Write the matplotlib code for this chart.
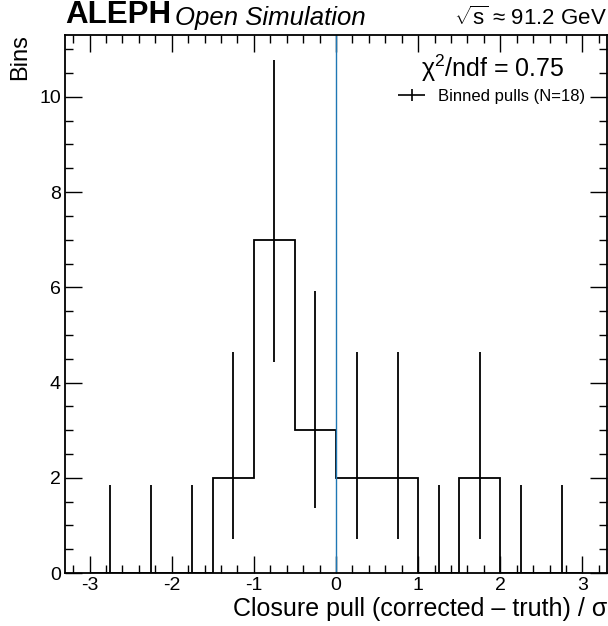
import numpy as np
import matplotlib
matplotlib.use("Agg")
import matplotlib.pyplot as plt
from matplotlib.ticker import MultipleLocator
from matplotlib.legend_handler import HandlerErrorbar

plt.rcParams['font.family'] = ['Liberation Sans', 'DejaVu Sans']
plt.rcParams['mathtext.fontset'] = 'custom'
plt.rcParams['mathtext.rm'] = 'Liberation Sans'
plt.rcParams['mathtext.it'] = 'Liberation Sans:italic'
plt.rcParams['axes.unicode_minus'] = False

# binned closure pulls, 0.5 wide bins from -3 to 3
edges = [-3.0, -2.5, -2.0, -1.5, -1.0, -0.5, 0.0, 0.5, 1.0, 1.5, 2.0, 2.5, 3.0]
counts = [0, 0, 0, 2, 7, 3, 2, 2, 0, 2, 0, 0]
# Poisson (Garwood) 68% intervals per bin
err_lo = [0.0, 0.0, 0.0, 0.708, 4.423, 1.367, 0.708, 0.708, 0.0, 0.708, 0.0, 0.0]
err_hi = [1.841, 1.841, 1.841, 4.638, 10.771, 5.918, 4.638, 4.638, 1.841, 4.638, 1.841, 1.841]
chi2_ndf = 0.75
n_entries = 18

edges = np.array(edges)
counts = np.array(counts)
centers = 0.5 * (edges[:-1] + edges[1:])
yerr = [counts - np.array(err_lo), np.array(err_hi) - counts]

fig = plt.figure(figsize=(6.08, 6.26), dpi=100)
ax = fig.add_axes([65 / 608, 53 / 626, 542 / 608, 538.5 / 626])

ax.stairs(counts, edges, color='black', linewidth=1.3)
ax.errorbar(centers, counts, yerr=yerr, fmt='none', ecolor='black',
            elinewidth=1.3)
# legend proxy with a horizontal bar like the histogram errorbar style
proxy = ax.errorbar([], [], xerr=[], yerr=[], fmt='none', ecolor='black',
                    elinewidth=1.2, label=f'Binned pulls (N={n_entries})')
ax.axvline(0, color='#1f77b4', linewidth=1.0)

ax.set_xlim(-3.3, 3.3)
ax.set_ylim(0, 11.31)

ax.xaxis.set_major_locator(MultipleLocator(1))
ax.xaxis.set_minor_locator(MultipleLocator(0.2))
ax.yaxis.set_major_locator(MultipleLocator(2))
ax.yaxis.set_minor_locator(MultipleLocator(0.5))
ax.tick_params(which='both', direction='in', top=True, right=True,
               labelsize=14, width=1.0)
ax.tick_params(which='major', length=12, pad=3)
ax.tick_params(which='minor', length=6)
for s in ax.spines.values():
    s.set_linewidth(1.3)

ax.set_xlabel('Closure pull (corrected \u2013 truth) / \u03c3', fontsize=18,
              loc='right', labelpad=2)
ax.set_ylabel('Bins', fontsize=17, loc='top', labelpad=6)

ax.text(0.0, 1.008, 'ALEPH', transform=ax.transAxes, fontsize=22.5,
        fontweight='bold', ha='left', va='bottom')
ax.text(0.203, 1.008, 'Open Simulation', transform=ax.transAxes, fontsize=18.5,
        fontstyle='italic', ha='left', va='bottom')
ax.text(1.0, 1.008, '$\\sqrt{\\mathrm{s}}$ \u2248 91.2 GeV',
        transform=ax.transAxes, fontsize=16, ha='right', va='bottom')

ax.text(0.79, 0.937, '\u03c7$^2$/ndf = ' + f'{chi2_ndf:.2f}',
        transform=ax.transAxes, fontsize=18, ha='center', va='center')
ax.legend(loc='center right', bbox_to_anchor=(1.0, 0.885), frameon=False,
          fontsize=12, handlelength=1.6, handletextpad=0.8, borderaxespad=0.9,
          handler_map={type(proxy): HandlerErrorbar(xerr_size=0.8,
                                                    yerr_size=0.36)})

fig.savefig('out.png', dpi=100)
